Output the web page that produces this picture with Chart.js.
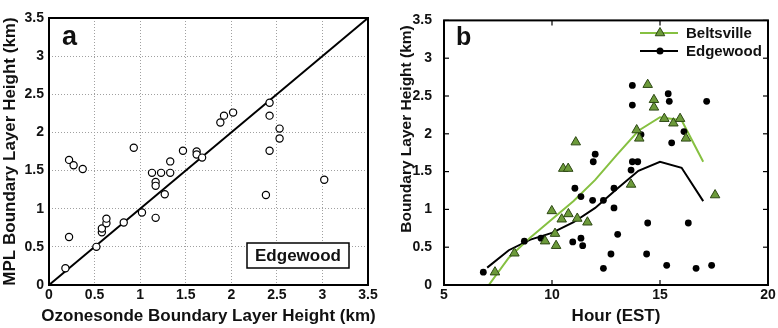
<!DOCTYPE html>
<html><head><meta charset="utf-8">
<script src="https://cdn.jsdelivr.net/npm/chart.js@4"></script>
<style>
html,body{margin:0;padding:0;background:#fff;}
#wrap{position:relative;width:778px;height:328px;overflow:hidden;}
#ca{position:absolute;left:0;top:0;}
#cb{position:absolute;left:390px;top:0;}
</style></head><body>
<div id="wrap"><canvas id="ca" width="380" height="328"></canvas><canvas id="cb" width="388" height="328"></canvas></div>
<script>
// ---------- Panel a data ----------
const ozonesondeBLH = [0.18,0.22,0.22,0.27,0.37,0.52,0.58,0.58,0.63,0.63,0.82,0.93,1.02,1.13,1.17,1.17,1.17,1.23,1.27,1.33,1.33,1.47,1.62,1.62,1.68,1.88,1.92,2.02,2.38,2.42,2.42,2.42,2.53,2.53,3.02];
const mplBLH       = [0.22,0.63,1.64,1.57,1.52,0.50,0.69,0.74,0.81,0.87,0.82,1.80,0.95,1.47,1.35,1.30,0.88,1.47,1.19,1.47,1.62,1.76,1.75,1.71,1.67,2.13,2.22,2.26,1.18,2.39,2.22,1.76,2.05,1.92,1.38];
const oneToOne = [0, 3.5];
const blhTicks = [0,0.5,1,1.5,2,2.5,3,3.5];

// ---------- Panel b data ----------
const beltsvilleHour = [14.43,14.72,14.72,15.20,15.62,15.93,16.20,13.92,14.04,11.10,10.52,10.75,13.66,17.55,9.99,10.45,10.76,11.17,11.64,10.14,9.68,10.19,8.26,7.36];
const beltsvilleBLH  = [2.65,2.45,2.35,2.20,2.14,2.20,1.94,2.05,1.94,1.89,1.54,1.54,1.33,1.19,0.98,0.87,0.94,0.88,0.83,0.68,0.58,0.52,0.42,0.17];
const edgewoodHour = [13.72,15.38,15.43,13.72,17.16,16.11,14.12,15.54,12.00,11.91,13.66,13.72,13.97,11.06,11.34,11.88,12.38,12.87,12.87,14.43,16.31,13.04,8.72,9.49,10.96,11.34,11.42,12.73,14.38,6.82,12.38,15.31,16.67,17.39];
const edgewoodBLH  = [2.64,2.53,2.43,2.38,2.43,2.03,1.99,1.88,1.73,1.63,1.52,1.63,1.63,1.28,1.17,1.12,1.12,1.28,1.02,0.82,0.82,0.67,0.58,0.62,0.57,0.62,0.52,0.41,0.41,0.17,0.22,0.26,0.22,0.26];
const meanHours = [7,8,9,10,11,12,13,14,15,16,17];
const beltsvilleMean = [-0.03,0.36,0.63,0.87,1.11,1.39,1.72,2.04,2.22,2.18,1.63];
const edgewoodMean   = [0.23,0.46,0.60,0.69,0.83,1.02,1.27,1.51,1.63,1.55,1.11];
const hourTicks = [5,10,15,20];
const seriesNames = ['Beltsville','Edgewood'];

const FONT = '"Liberation Sans", Arial, Helvetica, sans-serif';
const tickFont = {family: FONT, size: 14, weight: 'bold'};
const fmt = v => String(+Number(v).toFixed(2));
const GREEN_LINE = '#86c041';
const GREEN_FILL = '#6c9a3a';
const GREEN_EDGE = '#2c4713';

const pts = (xs, ys) => xs.map((x, i) => ({x, y: ys[i]}));

const boxPlugin = {
  id: 'box',
  afterDraw(chart) {
    const {ctx, chartArea: a} = chart;
    ctx.save();
    ctx.strokeStyle = '#000'; ctx.lineWidth = 2;
    ctx.strokeRect(a.left, a.top, a.right - a.left, a.bottom - a.top);
    ctx.restore();
  }
};

function drawText(ctx, txt, x, y, size, opts = {}) {
  ctx.save();
  ctx.font = 'bold ' + size + 'px ' + FONT;
  ctx.fillStyle = '#111';
  ctx.textAlign = opts.align || 'left';
  ctx.textBaseline = opts.baseline || 'alphabetic';
  ctx.translate(x, y);
  if (opts.rot) ctx.rotate(opts.rot);
  ctx.fillText(txt, 0, 0);
  ctx.restore();
}

// ---------- Panel a ----------
const annotA = {
  id: 'annotA',
  afterDraw(chart) {
    const {ctx, chartArea: a} = chart;
    drawText(ctx, 'a', 62, 45, 27);
    drawText(ctx, 'MPL Boundary Layer Height (km)', 15, (a.top + a.bottom) / 2, 17, {align: 'center', rot: -Math.PI / 2});
    drawText(ctx, 'Ozonesonde Boundary Layer Height (km)', (a.left + a.right) / 2, 321, 17, {align: 'center'});
    ctx.save();
    ctx.fillStyle = '#fff';
    ctx.fillRect(247, 243, 102, 25);
    ctx.strokeStyle = '#000'; ctx.lineWidth = 1.5;
    ctx.strokeRect(247, 243, 102, 25);
    ctx.restore();
    drawText(ctx, 'Edgewood', 298, 256, 17, {align: 'center', baseline: 'middle'});
  }
};

new Chart(document.getElementById('ca'), {
  type: 'scatter',
  data: {
    datasets: [
      {
        label: 'Edgewood',
        data: pts(ozonesondeBLH, mplBLH),
        pointStyle: 'circle', pointRadius: 3.6, pointBorderWidth: 1.2,
        pointBackgroundColor: '#fff', pointBorderColor: '#000', showLine: false, order: 1
      },
      {
        label: '1:1',
        type: 'line',
        data: pts(oneToOne, oneToOne),
        borderColor: '#000', borderWidth: 2, pointRadius: 0, fill: false, order: 2
      }
    ]
  },
  options: {
    responsive: false, animation: false, devicePixelRatio: 1,
    layout: {padding: {left: 0, top: 18, right: 12, bottom: 0}},
    plugins: {legend: {display: false}, tooltip: {enabled: false}},
    scales: {
      x: {
        type: 'linear', min: 0, max: 3.5,
        afterBuildTicks: s => { s.ticks = blhTicks.map(v => ({value: v})); },
        afterFit: s => { s.height = 43; },
        ticks: {font: tickFont, color: '#111', padding: 2, maxRotation: 0, callback: fmt},
        grid: {color: '#a0a0a0', lineWidth: 1, drawTicks: false},
        border: {display: false, dash: [1, 2]}
      },
      y: {
        type: 'linear', min: 0, max: 3.5,
        afterBuildTicks: s => { s.ticks = blhTicks.map(v => ({value: v})); },
        afterFit: s => { s.width = 49; },
        ticks: {font: tickFont, color: '#111', padding: 5, callback: fmt},
        grid: {color: '#a0a0a0', lineWidth: 1, drawTicks: false},
        border: {display: false, dash: [1, 2]}
      }
    }
  },
  plugins: [boxPlugin, annotA]
});

// ---------- Panel b ----------
const annotB = {
  id: 'annotB',
  afterDraw(chart) {
    const {ctx, chartArea: a, scales} = chart;
    // inward ticks
    ctx.save();
    ctx.strokeStyle = '#000'; ctx.lineWidth = 1.2;
    blhTicks.forEach(v => {
      const y = scales.y.getPixelForValue(v);
      ctx.beginPath(); ctx.moveTo(a.left, y); ctx.lineTo(a.left + 5, y); ctx.stroke();
      ctx.beginPath(); ctx.moveTo(a.right, y); ctx.lineTo(a.right - 5, y); ctx.stroke();
    });
    hourTicks.forEach(v => {
      const x = scales.x.getPixelForValue(v);
      ctx.beginPath(); ctx.moveTo(x, a.bottom); ctx.lineTo(x, a.bottom - 5); ctx.stroke();
      ctx.beginPath(); ctx.moveTo(x, a.top); ctx.lineTo(x, a.top + 5); ctx.stroke();
    });
    ctx.restore();
    drawText(ctx, 'b', 66, 45, 25);
    drawText(ctx, 'Boundary Layer Height (km)', 21, 129, 15.5, {align: 'center', rot: -Math.PI / 2});
    drawText(ctx, 'Hour (EST)', 226, 321, 17, {align: 'center'});
    // legend
    const lx0 = 250, lx1 = 288, mx = 270, tx = 296;
    const rows = [
      {y: 33, color: GREEN_LINE, name: seriesNames[0], tri: true},
      {y: 51, color: '#000', name: seriesNames[1], tri: false}
    ];
    rows.forEach(r => {
      ctx.save();
      ctx.strokeStyle = r.color; ctx.lineWidth = 2;
      ctx.beginPath(); ctx.moveTo(lx0, r.y); ctx.lineTo(lx1, r.y); ctx.stroke();
      if (r.tri) {
        const rad = 5.5;
        ctx.fillStyle = GREEN_FILL; ctx.strokeStyle = GREEN_EDGE; ctx.lineWidth = 1;
        ctx.beginPath();
        ctx.moveTo(mx, r.y - rad);
        ctx.lineTo(mx + rad * 0.866, r.y + rad * 0.5);
        ctx.lineTo(mx - rad * 0.866, r.y + rad * 0.5);
        ctx.closePath(); ctx.fill(); ctx.stroke();
      } else {
        ctx.fillStyle = '#000';
        ctx.beginPath(); ctx.arc(mx, r.y, 3.5, 0, Math.PI * 2); ctx.fill();
      }
      ctx.restore();
      drawText(ctx, r.name, tx, r.y + 1, 15, {baseline: 'middle'});
    });
  }
};

new Chart(document.getElementById('cb'), {
  type: 'scatter',
  data: {
    datasets: [
      {
        label: seriesNames[0],
        data: pts(beltsvilleHour, beltsvilleBLH),
        pointStyle: 'triangle', pointRadius: 5.5, pointBorderWidth: 1,
        pointBackgroundColor: GREEN_FILL, pointBorderColor: GREEN_EDGE, showLine: false, order: 1
      },
      {
        label: seriesNames[1],
        data: pts(edgewoodHour, edgewoodBLH),
        pointStyle: 'circle', pointRadius: 3.4, pointBorderWidth: 0,
        pointBackgroundColor: '#000', pointBorderColor: '#000', showLine: false, order: 2
      },
      {
        label: seriesNames[0] + ' mean',
        type: 'line',
        data: pts(meanHours, beltsvilleMean),
        borderColor: GREEN_LINE, borderWidth: 2, pointRadius: 0, fill: false, order: 3
      },
      {
        label: seriesNames[1] + ' mean',
        type: 'line',
        data: pts(meanHours, edgewoodMean),
        borderColor: '#000', borderWidth: 2, pointRadius: 0, fill: false, order: 4
      }
    ]
  },
  options: {
    responsive: false, animation: false, devicePixelRatio: 1,
    layout: {padding: {left: 0, top: 17, right: 10, bottom: 0}},
    plugins: {legend: {display: false}, tooltip: {enabled: false}},
    scales: {
      x: {
        type: 'linear', min: 5, max: 20,
        afterBuildTicks: s => { s.ticks = hourTicks.map(v => ({value: v})); },
        afterFit: s => { s.height = 43; },
        ticks: {font: tickFont, color: '#111', padding: 2, maxRotation: 0, callback: fmt},
        grid: {display: false, drawTicks: false},
        border: {display: false}
      },
      y: {
        type: 'linear', min: 0, max: 3.5,
        afterBuildTicks: s => { s.ticks = blhTicks.map(v => ({value: v})); },
        afterFit: s => { s.width = 54; },
        ticks: {font: tickFont, color: '#111', padding: 12, callback: fmt},
        grid: {display: false, drawTicks: false},
        border: {display: false}
      }
    }
  },
  plugins: [boxPlugin, annotB]
});
</script>
</body></html>
